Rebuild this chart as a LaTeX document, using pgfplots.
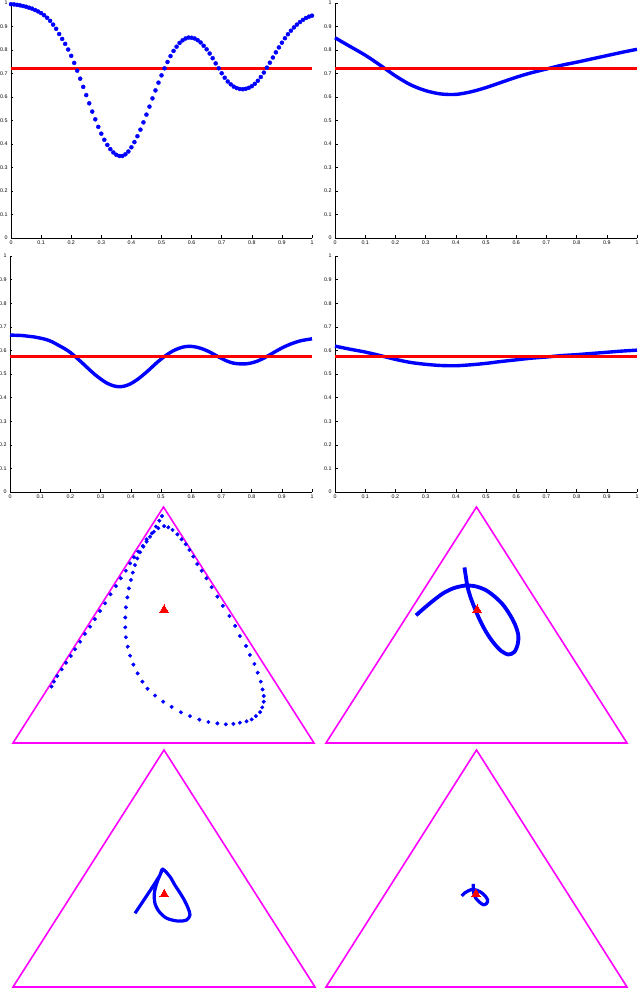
\documentclass[border=0pt]{standalone}
\usepackage{pgfplots}
\pgfplotsset{compat=1.18}
\usepackage{fontspec}
\setmainfont{Liberation Sans}

\definecolor{mblue}{RGB}{0,0,255}
\definecolor{mred}{RGB}{255,0,0}
\definecolor{mmag}{RGB}{255,0,255}

\pgfplotsset{
  lineplot/.style={
    scale only axis, anchor=south west, clip=false,
    width=301pt, height=235pt,
    xmin=0, xmax=1, ymin=0, ymax=1,
    axis x line*=bottom, axis y line*=left,
    axis line style={-, black, line width=0.5pt},
    tick style={black, line width=0.5pt},
    tick align=inside, major tick length=2.5pt,
    xtick={0,0.1,0.2,0.3,0.4,0.5,0.6,0.7,0.8,0.9,1},
    ytick={0,0.1,0.2,0.3,0.4,0.5,0.6,0.7,0.8,0.9,1},
    ticklabel style={font=\fontsize{5.3}{6}\selectfont},
    xticklabel style={yshift=1pt},
    /pgf/number format/assume math mode=true,
  },
  simplex/.style={
    scale only axis, anchor=south west, clip=false,
    width=301pt, height=236pt,
    xmin=0, xmax=1, ymin=0, ymax=1, hide axis,
  },
  edge/.style={mmag, line width=1.6pt, line join=miter},
  centre/.style={mred, only marks, mark=triangle*, mark size=5pt,
    mark options={solid, draw=mred, fill=mred, line width=0pt}},
  level/.style={mred, line width=2.8pt},
}

\begin{document}
\begin{tikzpicture}
\useasboundingbox (0,0) rectangle (640pt,988pt);

% ---- top left: dotted trajectory
\begin{axis}[lineplot, at={(11pt,750pt)}]
\addplot[only marks, mark=*, mark size=2pt, mark options={draw=mblue, fill=mblue}] coordinates {
(0.00,0.995)(0.01,0.994)(0.02,0.992)(0.03,0.990)(0.04,0.987)(0.05,0.984)
(0.06,0.980)(0.07,0.976)(0.08,0.970)(0.09,0.964)(0.10,0.957)(0.11,0.948)
(0.12,0.937)(0.13,0.924)(0.14,0.908)(0.15,0.890)(0.16,0.868)(0.17,0.847)
(0.18,0.826)(0.19,0.802)(0.20,0.775)(0.21,0.745)(0.22,0.712)(0.23,0.678)
(0.24,0.643)(0.25,0.608)(0.26,0.573)(0.27,0.538)(0.28,0.505)(0.29,0.473)
(0.30,0.444)(0.31,0.418)(0.32,0.396)(0.33,0.378)(0.34,0.364)(0.35,0.354)
(0.36,0.349)(0.37,0.349)(0.38,0.356)(0.39,0.368)(0.40,0.386)(0.41,0.408)
(0.42,0.433)(0.43,0.461)(0.44,0.492)(0.45,0.525)(0.46,0.559)(0.47,0.594)
(0.48,0.628)(0.49,0.661)(0.50,0.692)(0.51,0.722)(0.52,0.749)(0.53,0.774)
(0.54,0.796)(0.55,0.814)(0.56,0.830)(0.57,0.841)(0.58,0.849)(0.59,0.853)
(0.60,0.852)(0.61,0.849)(0.62,0.842)(0.63,0.832)(0.64,0.818)(0.65,0.803)
(0.66,0.785)(0.67,0.765)(0.68,0.743)(0.69,0.722)(0.70,0.701)(0.71,0.682)
(0.72,0.666)(0.73,0.654)(0.74,0.644)(0.75,0.638)(0.76,0.634)(0.77,0.633)
(0.78,0.635)(0.79,0.639)(0.80,0.646)(0.81,0.656)(0.82,0.669)(0.83,0.685)
(0.84,0.704)(0.85,0.725)(0.86,0.746)(0.87,0.768)(0.88,0.790)(0.89,0.811)
(0.90,0.831)(0.91,0.850)(0.92,0.867)(0.93,0.882)(0.94,0.896)(0.95,0.908)
(0.96,0.919)(0.97,0.928)(0.98,0.936)(0.99,0.942)(1.00,0.946)};
\addplot[level] coordinates {(0,0.722)(1,0.722)};
\end{axis}

% ---- top right
\begin{axis}[lineplot, at={(335pt,750pt)}, width=302pt]
\addplot[mblue, line width=3.4pt, smooth] coordinates {
(0.00,0.852)(0.05,0.815)(0.10,0.778)(0.15,0.735)(0.20,0.690)(0.25,0.652)
(0.30,0.627)(0.35,0.613)(0.40,0.611)(0.45,0.622)(0.50,0.640)(0.55,0.662)
(0.60,0.684)(0.65,0.703)(0.70,0.719)(0.75,0.735)(0.80,0.748)(0.85,0.762)
(0.90,0.776)(0.95,0.790)(1.00,0.803)};
\addplot[level] coordinates {(0,0.722)(1,0.722)};
\end{axis}

% ---- second row left
\begin{axis}[lineplot, at={(10pt,496pt)}, width=302pt, height=236pt]
\addplot[mblue, line width=3.4pt, smooth] coordinates {
(0.00,0.665)(0.02,0.664)(0.04,0.663)(0.06,0.660)(0.08,0.657)(0.10,0.652)
(0.12,0.646)(0.14,0.636)(0.16,0.622)(0.18,0.608)(0.20,0.591)(0.22,0.569)
(0.24,0.546)(0.26,0.522)(0.28,0.499)(0.30,0.479)(0.32,0.462)(0.34,0.451)
(0.36,0.446)(0.38,0.449)(0.40,0.459)(0.42,0.475)(0.44,0.495)(0.46,0.517)
(0.48,0.541)(0.50,0.563)(0.52,0.582)(0.54,0.598)(0.56,0.609)(0.58,0.616)
(0.60,0.617)(0.62,0.613)(0.64,0.605)(0.66,0.594)(0.68,0.580)(0.70,0.566)
(0.72,0.554)(0.74,0.546)(0.76,0.543)(0.78,0.543)(0.80,0.547)(0.82,0.555)
(0.84,0.567)(0.86,0.581)(0.88,0.596)(0.90,0.610)(0.92,0.622)(0.94,0.632)
(0.96,0.640)(0.98,0.645)(1.00,0.649)};
\addplot[level] coordinates {(0,0.575)(1,0.575)};
\end{axis}

% ---- second row right
\begin{axis}[lineplot, at={(335pt,496pt)}, width=302pt, height=236pt]
\addplot[mblue, line width=3.4pt, smooth] coordinates {
(0.00,0.618)(0.05,0.605)(0.10,0.593)(0.15,0.578)(0.20,0.562)(0.25,0.549)
(0.30,0.541)(0.35,0.536)(0.40,0.535)(0.45,0.539)(0.50,0.545)(0.55,0.553)
(0.60,0.560)(0.65,0.567)(0.70,0.572)(0.75,0.578)(0.80,0.582)(0.85,0.587)
(0.90,0.592)(0.95,0.597)(1.00,0.601)};
\addplot[level] coordinates {(0,0.575)(1,0.575)};
\end{axis}

% ---- simplex, third row left
\begin{axis}[simplex, at={(13pt,245pt)}]
\addplot[edge] coordinates {(0,0)(1,0)(0.5,1)(0,0)(1,0)};
\addplot[only marks, mark=*, mark size=1.8pt, mark options={draw=mblue, fill=mblue}] coordinates {
(0.128,0.239)(0.136,0.260)(0.147,0.284)(0.162,0.312)(0.176,0.340)(0.192,0.369)
(0.206,0.397)(0.223,0.429)(0.239,0.462)(0.256,0.493)(0.272,0.525)(0.289,0.559)
(0.306,0.592)(0.324,0.630)(0.342,0.665)(0.358,0.698)(0.375,0.730)(0.389,0.761)
(0.402,0.787)(0.416,0.811)(0.431,0.835)(0.444,0.863)(0.461,0.888)(0.475,0.917)
(0.486,0.942)(0.495,0.962)
(0.502,0.919)(0.516,0.914)(0.530,0.903)(0.546,0.884)(0.560,0.863)(0.574,0.842)
(0.586,0.818)(0.599,0.790)(0.612,0.758)(0.627,0.730)(0.643,0.698)(0.660,0.660)
(0.679,0.620)(0.697,0.581)(0.719,0.538)(0.738,0.496)(0.754,0.453)(0.774,0.411)
(0.787,0.373)(0.802,0.335)(0.813,0.298)(0.823,0.260)(0.829,0.227)(0.833,0.199)
(0.833,0.175)(0.828,0.151)(0.821,0.131)(0.807,0.114)(0.793,0.100)(0.776,0.092)
(0.754,0.086)(0.732,0.081)(0.707,0.079)(0.679,0.083)(0.649,0.089)(0.619,0.099)
(0.588,0.114)(0.558,0.130)(0.527,0.153)(0.499,0.175)(0.472,0.201)(0.447,0.230)
(0.430,0.260)(0.414,0.295)(0.400,0.332)(0.389,0.370)(0.381,0.408)(0.375,0.448)
(0.373,0.490)(0.373,0.532)(0.375,0.575)(0.380,0.617)(0.385,0.655)(0.392,0.691)
(0.398,0.722)(0.405,0.754)(0.413,0.782)(0.422,0.808)(0.433,0.832)(0.444,0.853)
(0.455,0.874)(0.468,0.895)(0.483,0.910)};
\addplot[centre] coordinates {(0.502,0.564)};
\end{axis}

% ---- simplex, third row right
\begin{axis}[simplex, at={(326pt,245pt)}]
\addplot[edge] coordinates {(0,0)(1,0)(0.5,1)(0,0)(1,0)};
\addplot[mblue, line width=3.8pt, smooth] coordinates {
(0.299,0.541)(0.324,0.569)(0.357,0.604)(0.390,0.635)(0.424,0.656)(0.462,0.667)
(0.496,0.664)(0.529,0.649)(0.559,0.622)(0.588,0.586)(0.612,0.541)(0.629,0.499)
(0.639,0.456)(0.637,0.419)(0.626,0.386)(0.606,0.375)(0.582,0.390)(0.557,0.424)
(0.534,0.466)(0.514,0.513)(0.497,0.562)(0.482,0.611)(0.471,0.657)(0.465,0.702)
(0.460,0.744)};
\addplot[centre] coordinates {(0.502,0.564)};
\end{axis}

% ---- simplex, bottom row left
\begin{axis}[simplex, at={(13pt,1pt)}, width=302pt, height=237pt]
\addplot[edge] coordinates {(0,0)(1,0)(0.5,1)(0,0)(1,0)};
\addplot[mblue, line width=3.2pt, smooth] coordinates {
(0.404,0.311)(0.426,0.353)(0.448,0.395)(0.470,0.438)(0.487,0.473)(0.496,0.497)
(0.520,0.465)(0.536,0.430)(0.553,0.397)(0.568,0.365)(0.580,0.332)(0.586,0.304)
(0.575,0.283)(0.547,0.278)(0.509,0.290)(0.484,0.318)(0.470,0.353)(0.468,0.395)
(0.476,0.438)(0.487,0.473)(0.496,0.497)};
\addplot[centre] coordinates {(0.501,0.391)};
\end{axis}

% ---- simplex, bottom row right
\begin{axis}[simplex, at={(326pt,1pt)}, height=237pt]
\addplot[edge] coordinates {(0,0)(1,0)(0.5,1)(0,0)(1,0)};
\addplot[mblue, line width=3.2pt, smooth] coordinates {
(0.451,0.384)(0.462,0.398)(0.473,0.406)(0.489,0.412)(0.512,0.402)(0.528,0.385)
(0.537,0.367)(0.534,0.353)(0.523,0.347)(0.509,0.359)(0.497,0.376)(0.491,0.395)
(0.489,0.416)(0.489,0.435)};
\addplot[centre] coordinates {(0.498,0.392)};
\end{axis}
\end{tikzpicture}
\end{document}
